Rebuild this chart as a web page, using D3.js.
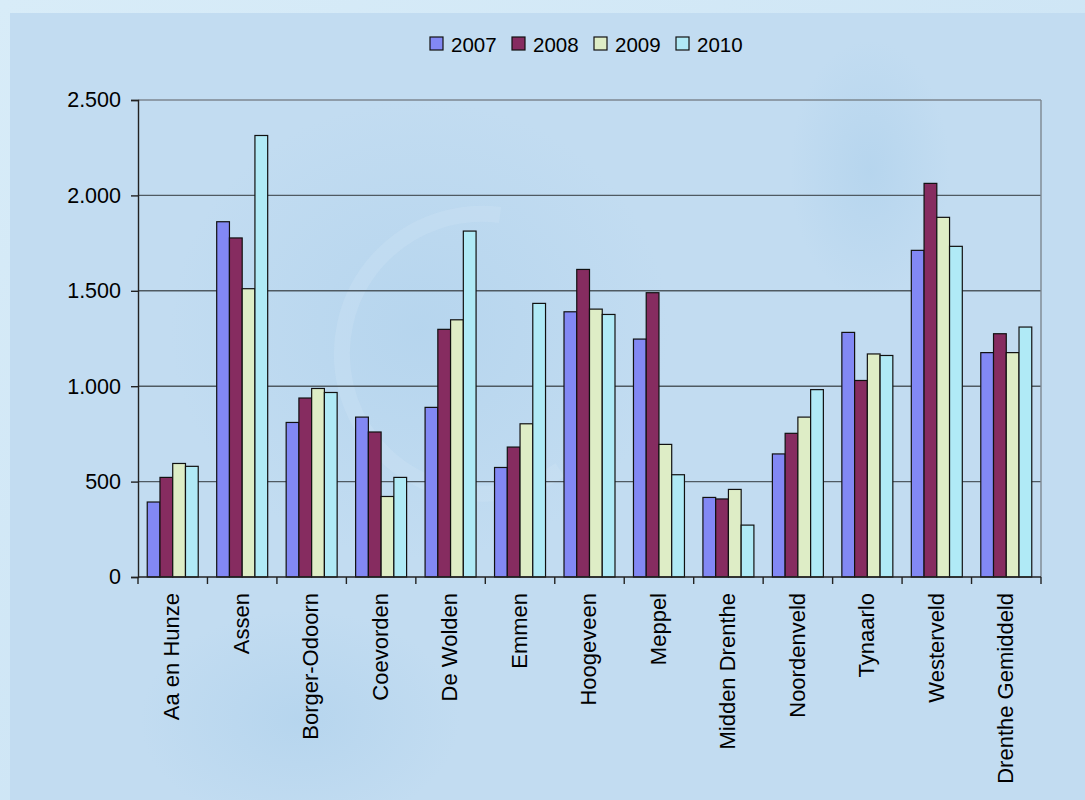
<!DOCTYPE html>
<html>
<head>
<meta charset="utf-8">
<script src="https://cdn.jsdelivr.net/npm/d3@7"></script>
<style>
  html, body { margin: 0; padding: 0; }
  body { width: 1085px; height: 800px; overflow: hidden; font-family: "Liberation Sans", Arial, sans-serif; }
</style>
</head>
<body>
<svg id="chart" width="1085" height="800"></svg>
<script>
// Data
var categories = ["Aa en Hunze", "Assen", "Borger-Odoorn", "Coevorden", "De Wolden", "Emmen",
    "Hoogeveen", "Meppel", "Midden Drenthe", "Noordenveld", "Tynaarlo", "Westerveld", "Drenthe Gemiddeld"];
var years = ["2007", "2008", "2009", "2010"];
var values2007 = [393, 1862, 810, 838, 889, 574, 1390, 1247, 417, 645, 1282, 1712, 1176];
var values2008 = [522, 1777, 938, 760, 1298, 681, 1612, 1490, 409, 753, 1030, 2063, 1275];
var values2009 = [595, 1511, 988, 422, 1348, 803, 1404, 695, 459, 838, 1169, 1885, 1176];
var values2010 = [580, 2314, 967, 522, 1813, 1434, 1376, 536, 272, 982, 1161, 1733, 1310];
var yTicks = [0, 500, 1000, 1500, 2000, 2500];

var series = [values2007, values2008, values2009, values2010];
var colors = ["#8288f4", "#862c60", "#deedc6", "#b0eaf6"];

var svg = d3.select("#chart");

// Background
var defs = svg.append("defs");
var bg = defs.append("linearGradient").attr("id", "bg").attr("x1", 0).attr("y1", 0).attr("x2", 1).attr("y2", 1);
bg.append("stop").attr("offset", "0%").attr("stop-color", "#d8ecf8");
bg.append("stop").attr("offset", "100%").attr("stop-color", "#c6e0f3");
var blob = defs.append("radialGradient").attr("id", "blob");
blob.append("stop").attr("offset", "0%").attr("stop-color", "#a8cdea").attr("stop-opacity", 0.45);
blob.append("stop").attr("offset", "100%").attr("stop-color", "#a8cdea").attr("stop-opacity", 0);

svg.append("rect").attr("width", 1085).attr("height", 800).attr("fill", "url(#bg)");
svg.append("rect").attr("x", 10).attr("y", 13).attr("width", 1075).attr("height", 787).attr("fill", "#c2dcf1");

// faint decorative shapes
svg.append("ellipse").attr("cx", 420).attr("cy", 330).attr("rx", 250).attr("ry", 230).attr("fill", "url(#blob)");
svg.append("ellipse").attr("cx", 870).attr("cy", 170).attr("rx", 80).attr("ry", 130).attr("fill", "url(#blob)");
svg.append("ellipse").attr("cx", 300).attr("cy", 720).attr("rx", 160).attr("ry", 110).attr("fill", "url(#blob)");
svg.append("path")
    .attr("d", "M500,215 A140,140 0 1,0 560,470")
    .attr("fill", "none").attr("stroke", "#cfe4f5").attr("stroke-width", 16).attr("opacity", 0.3);

// Plot area
var plotLeft = 138, plotRight = 1041, plotTop = 100, plotBottom = 577;

var x0 = d3.scaleBand().domain(categories).range([plotLeft, plotRight]).padding(0);
var bw = x0.bandwidth();
var x1 = d3.scaleBand().domain(years).range([bw * 0.133, bw * 0.867]).padding(0);
var y = d3.scaleLinear().domain([0, 2500]).range([plotBottom, plotTop]);

// Gridlines
svg.append("g").selectAll("line")
    .data(yTicks.filter(function(d) { return d > 0; }))
    .enter().append("line")
    .attr("x1", plotLeft).attr("x2", plotRight)
    .attr("y1", function(d) { return y(d); })
    .attr("y2", function(d) { return y(d); })
    .attr("stroke", function(d) { return d === 2500 ? "#7d8790" : "#4f5a62"; })
    .attr("stroke-width", 1.4);

// right border
svg.append("line")
    .attr("x1", plotRight).attr("x2", plotRight).attr("y1", plotTop).attr("y2", plotBottom)
    .attr("stroke", "#7d8790").attr("stroke-width", 1.4);

// Bars
var groups = svg.append("g").selectAll("g")
    .data(categories)
    .enter().append("g")
    .attr("transform", function(d) { return "translate(" + x0(d) + ",0)"; });

groups.selectAll("rect")
    .data(function(d, i) { return series.map(function(s, k) { return { year: years[k], value: s[i], k: k }; }); })
    .enter().append("rect")
    .attr("x", function(d) { return x1(d.year); })
    .attr("width", x1.bandwidth())
    .attr("y", function(d) { return y(d.value); })
    .attr("height", function(d) { return y(0) - y(d.value); })
    .attr("fill", function(d) { return colors[d.k]; })
    .attr("stroke", "#111")
    .attr("stroke-width", 1.2);

// Y axis
var yAxis = svg.append("g")
    .attr("transform", "translate(" + plotLeft + ",0)")
    .call(d3.axisLeft(y).tickValues(yTicks).tickSize(7).tickPadding(10)
        .tickFormat(function(d) { return d3.format(",")(d).replace(/,/g, "."); }));
yAxis.select(".domain").attr("stroke", "#222").attr("stroke-width", 1.4);
yAxis.selectAll(".tick line").attr("stroke", "#222").attr("stroke-width", 1.4);
yAxis.selectAll("text").attr("font-size", "21.5px").attr("fill", "#000")
    .attr("font-family", "Liberation Sans, Arial, sans-serif");

// X axis
var xAxis = svg.append("g")
    .attr("transform", "translate(0," + plotBottom + ")");
xAxis.append("line").attr("x1", plotLeft).attr("x2", plotRight).attr("y1", 0).attr("y2", 0)
    .attr("stroke", "#222").attr("stroke-width", 1.4);
xAxis.selectAll(".xtick")
    .data(categories.concat(["end"]))
    .enter().append("line")
    .attr("x1", function(d, i) { return plotLeft + i * bw; })
    .attr("x2", function(d, i) { return plotLeft + i * bw; })
    .attr("y1", 0).attr("y2", 7)
    .attr("stroke", "#222").attr("stroke-width", 1.4);

xAxis.selectAll(".xlabel")
    .data(categories)
    .enter().append("text")
    .attr("transform", function(d) {
        return "translate(" + (x0(d) + bw / 2 - 1) + ",16) rotate(-90)";
    })
    .attr("text-anchor", "end")
    .attr("dy", "0.35em")
    .attr("font-size", "22px")
    .attr("fill", "#000")
    .text(function(d) { return d; });

// Legend
var legend = svg.append("g").attr("transform", "translate(430,37)");
var item = legend.selectAll("g")
    .data(years)
    .enter().append("g")
    .attr("transform", function(d, i) { return "translate(" + (i * 82) + ",0)"; });
item.append("rect")
    .attr("width", 13).attr("height", 13)
    .attr("fill", function(d, i) { return colors[i]; })
    .attr("stroke", "#111").attr("stroke-width", 1.2);
item.append("text")
    .attr("x", 21).attr("y", 14.5)
    .attr("font-size", "20.5px")
    .attr("fill", "#000")
    .text(function(d) { return d; });
</script>
</body>
</html>
